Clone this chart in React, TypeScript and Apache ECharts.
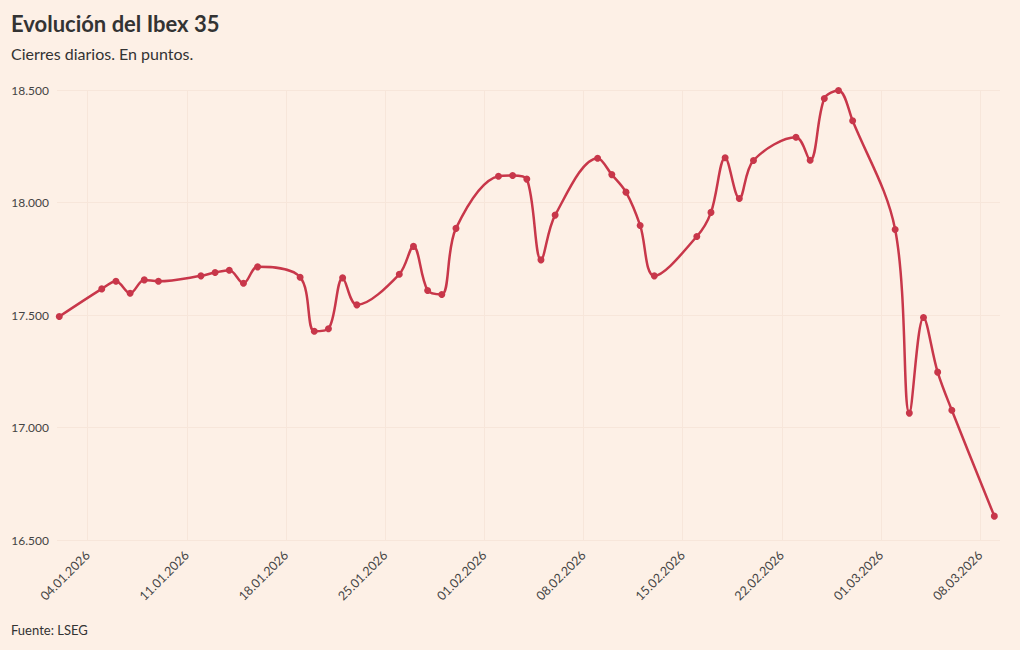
import React, { useEffect, useRef } from "react";
import * as echarts from "echarts";

const dates = [
  "2026-01-02",
  "2026-01-05", "2026-01-06", "2026-01-07", "2026-01-08", "2026-01-09",
  "2026-01-12", "2026-01-13", "2026-01-14", "2026-01-15", "2026-01-16",
  "2026-01-19", "2026-01-20", "2026-01-21", "2026-01-22", "2026-01-23",
  "2026-01-26", "2026-01-27", "2026-01-28", "2026-01-29", "2026-01-30",
  "2026-02-02", "2026-02-03", "2026-02-04", "2026-02-05", "2026-02-06",
  "2026-02-09", "2026-02-10", "2026-02-11", "2026-02-12", "2026-02-13",
  "2026-02-16", "2026-02-17", "2026-02-18", "2026-02-19", "2026-02-20",
  "2026-02-23", "2026-02-24", "2026-02-25", "2026-02-26", "2026-02-27",
  "2026-03-02", "2026-03-03", "2026-03-04", "2026-03-05", "2026-03-06",
  "2026-03-09",
];

const closes = [
  17493,
  17616, 17650, 17597, 17656, 17650,
  17674, 17689, 17699, 17641, 17714,
  17668, 17428, 17439, 17665, 17545,
  17681, 17805, 17609, 17591, 17885,
  18117, 18120, 18104, 17745, 17944,
  18197, 18124, 18046, 17898, 17674,
  17849, 17956, 18199, 18018, 18187,
  18290, 18188, 18462, 18498, 18363,
  17880, 17064, 17489, 17246, 17077,
  16606,
];

const tickDates = [
  "2026-01-04", "2026-01-11", "2026-01-18", "2026-01-25", "2026-02-01",
  "2026-02-08", "2026-02-15", "2026-02-22", "2026-03-01", "2026-03-08",
];

const yMin = 16500;
const yMax = 18500;
const yStep = 500;

const TITLE = "Evolución del Ibex 35";
const SUBTITLE = "Cierres diarios. En puntos.";
const SOURCE = "Fuente: LSEG";

const EPOCH = Date.UTC(2026, 0, 1);
function dayIndex(s: string): number {
  const [y, m, d] = s.split("-").map(Number);
  return (Date.UTC(y, m - 1, d) - EPOCH) / 86400000;
}
function fmtDay(v: number): string {
  const dt = new Date(EPOCH + Math.round(v) * 86400000);
  const dd = String(dt.getUTCDate()).padStart(2, "0");
  const mm = String(dt.getUTCMonth() + 1).padStart(2, "0");
  return `${dd}.${mm}.${dt.getUTCFullYear()}`;
}
function fmtNum(v: number): string {
  return String(Math.round(v)).replace(/\B(?=(\d{3})+(?!\d))/g, ".");
}

const FONT = "Lato, 'Noto Sans', sans-serif";

export default function App() {
  const ref = useRef<HTMLDivElement>(null);
  useEffect(() => {
    document.body.style.margin = "0";
    if (!ref.current) return;
    const chart = echarts.init(ref.current, undefined, { renderer: "svg" });
    const xs = dates.map(dayIndex);
    const ticks = tickDates.map(dayIndex);
    chart.setOption({
      animation: false,
      backgroundColor: "#fdf0e6",
      textStyle: { fontFamily: FONT },
      grid: { left: 57, right: 20, top: 90, bottom: 110, containLabel: false },
      graphic: [
        {
          type: "text",
          left: 11,
          top: 12,
          style: { text: TITLE, font: `bold 22px ${FONT}`, fill: "#333333" },
        },
        {
          type: "text",
          left: 11,
          top: 45,
          style: { text: SUBTITLE, font: `16px ${FONT}`, fill: "#333333" },
        },
        {
          type: "text",
          left: 11,
          top: 623,
          style: { text: SOURCE, font: `13px ${FONT}`, fill: "#333333" },
        },
      ],
      xAxis: {
        type: "value",
        min: xs[0] - 0.16,
        max: xs[xs.length - 1] + 0.4,
        axisLine: { show: false },
        axisTick: { show: false, customValues: ticks },
        splitLine: { show: true, lineStyle: { color: "#f7e6da", width: 1 } },
        axisLabel: {
          customValues: ticks,
          formatter: (v: number) => fmtDay(v),
          rotate: 45,
          color: "#444444",
          fontSize: 12.5,
          fontFamily: FONT,
          margin: 13,
        },
      },
      yAxis: {
        type: "value",
        min: yMin,
        max: yMax,
        interval: yStep,
        axisLine: { show: false },
        axisTick: { show: false },
        splitLine: { show: true, lineStyle: { color: "#f7e6da", width: 1 } },
        axisLabel: {
          formatter: (v: number) => fmtNum(v),
          color: "#444444",
          fontSize: 12,
          fontFamily: FONT,
          margin: 8,
        },
      },
      series: [
        {
          type: "line",
          data: xs.map((x, i) => [x, closes[i]]),
          smooth: 0.35,
          symbol: "circle",
          symbolSize: 7,
          lineStyle: { color: "#c8374a", width: 2.5 },
          itemStyle: { color: "#c8374a" },
        },
      ],
    });
    return () => chart.dispose();
  }, []);
  return <div ref={ref} style={{ width: 1020, height: 650 }} />;
}
